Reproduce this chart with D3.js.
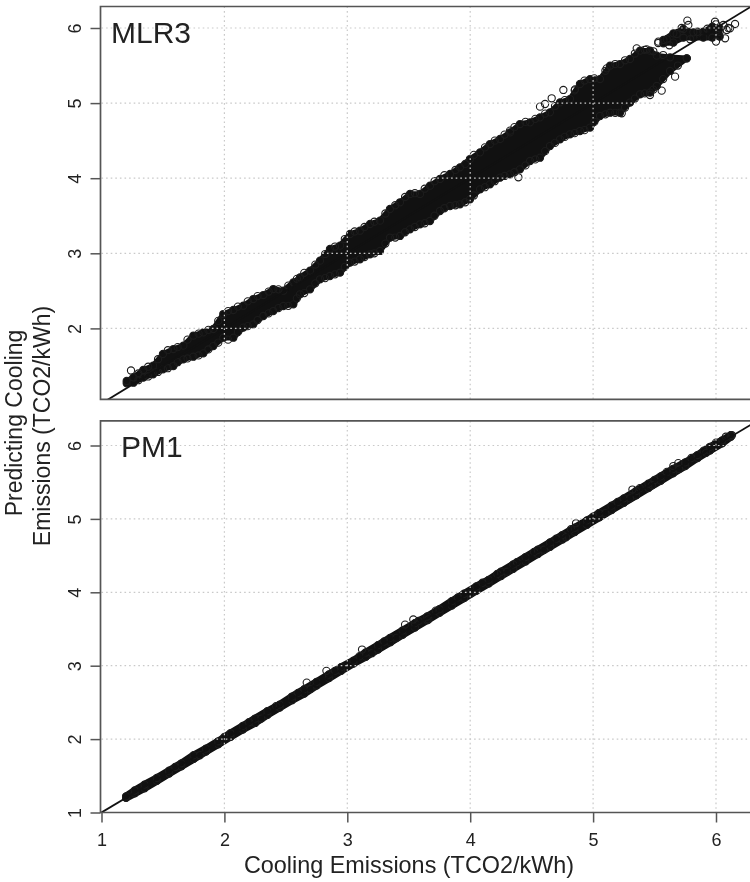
<!DOCTYPE html>
<html>
<head>
<meta charset="utf-8">
<script src="https://cdn.jsdelivr.net/npm/d3@7"></script>
<style>
  body { margin: 0; background: #fff; }
  svg { display: block; filter: blur(0.4px); }
  text { font-family: "Liberation Sans", Arial, sans-serif; fill: #222; }
</style>
</head>
<body>
<svg width="750" height="882"></svg>
<script>
const ticksTop = [2, 3, 4, 5, 6];
const ticksBottom = [1, 2, 3, 4, 5, 6];
const ticksX = [1, 2, 3, 4, 5, 6];

// MLR3: edges of the dense cloud
const mlrX = [1.205, 1.26, 1.34, 1.42, 1.5, 1.585, 1.666, 1.747, 1.829, 1.91, 1.991, 2.073, 2.154, 2.235, 2.317, 2.398, 2.48, 2.561, 2.615, 2.697, 2.778, 2.859, 2.941, 3.022, 3.103, 3.185, 3.266, 3.347, 3.429, 3.51, 3.592, 3.673, 3.754, 3.836, 3.917, 3.998, 4.08, 4.161, 4.243, 4.324, 4.405, 4.487, 4.568, 4.649, 4.731, 4.812, 4.893, 4.975, 5.056, 5.138, 5.219, 5.3, 5.382, 5.463, 5.518, 5.626, 5.762];
const mlrHigh = [1.3, 1.348, 1.446, 1.504, 1.659, 1.725, 1.77, 1.903, 1.947, 1.992, 2.191, 2.245, 2.302, 2.391, 2.444, 2.524, 2.502, 2.613, 2.68, 2.769, 2.902, 3.057, 3.102, 3.257, 3.301, 3.39, 3.435, 3.59, 3.679, 3.79, 3.79, 3.9, 3.99, 4.056, 4.145, 4.255, 4.344, 4.455, 4.522, 4.61, 4.721, 4.744, 4.81, 4.877, 5.01, 5.054, 5.254, 5.32, 5.32, 5.498, 5.52, 5.587, 5.698, 5.698, 5.632, 5.61, 5.596];
const mlrLow = [1.27, 1.277, 1.344, 1.388, 1.455, 1.499, 1.588, 1.623, 1.668, 1.765, 1.876, 1.876, 2.01, 2.054, 2.165, 2.231, 2.298, 2.32, 2.453, 2.52, 2.654, 2.698, 2.742, 2.875, 2.92, 2.986, 3.031, 3.208, 3.231, 3.319, 3.386, 3.43, 3.563, 3.63, 3.652, 3.718, 3.851, 3.918, 4.007, 4.051, 4.118, 4.229, 4.273, 4.428, 4.517, 4.584, 4.628, 4.673, 4.828, 4.872, 4.872, 5.006, 5.116, 5.14, 5.228, 5.428, 5.596];
// the small separate group at the top end
const endX = [5.572, 5.653, 5.735, 5.816, 5.897, 5.97, 6.03];
const endHigh = [5.84, 5.929, 5.987, 5.942, 5.951, 6.018, 5.996];
const endLow = [5.796, 5.805, 5.871, 5.871, 5.871, 5.871, 5.885];
// single points along the cloud edges and loose ones outside it
const mlrRimX = [1.3, 1.38, 1.46, 1.54, 1.62, 1.7, 1.79, 1.87, 1.95, 2.03, 2.11, 2.19, 2.27, 2.36, 2.44, 2.52, 2.59, 2.65, 2.74, 2.82, 2.9, 2.98, 3.06, 3.14, 3.22, 3.31, 3.39, 3.47, 3.55, 3.63, 3.71, 3.79, 3.88, 3.96, 4.03, 4.12, 4.2, 4.28, 4.36, 4.45, 4.53, 4.61, 4.69, 4.77, 4.85, 4.93, 5.01, 5.1, 5.18, 5.26, 5.34, 5.42, 5.49, 5.57,
  1.3, 1.38, 1.46, 1.54, 1.62, 1.7, 1.79, 1.87, 1.95, 2.03, 2.11, 2.19, 2.27, 2.36, 2.44, 2.52, 2.59, 2.65, 2.74, 2.82, 2.9, 2.98, 3.06, 3.14, 3.22, 3.31, 3.39, 3.47, 3.55, 3.63, 3.71, 3.79, 3.88, 3.96, 4.03, 4.12, 4.2, 4.28, 4.36, 4.45, 4.53, 4.61, 4.69, 4.77, 4.85, 4.93, 5.01, 5.1, 5.18, 5.26, 5.34, 5.42, 5.49, 5.57, 5.69];
const mlrRimY = [1.4, 1.49, 1.59, 1.71, 1.75, 1.85, 1.93, 1.98, 2.1, 2.23, 2.29, 2.36, 2.43, 2.49, 2.52, 2.57, 2.66, 2.74, 2.85, 2.99, 3.09, 3.19, 3.29, 3.35, 3.42, 3.53, 3.64, 3.75, 3.8, 3.86, 3.96, 4.04, 4.11, 4.19, 4.31, 4.41, 4.5, 4.58, 4.68, 4.75, 4.79, 4.86, 4.96, 5.04, 5.17, 5.3, 5.33, 5.43, 5.52, 5.57, 5.66, 5.71, 5.69, 5.64,
  1.31, 1.36, 1.42, 1.47, 1.55, 1.6, 1.64, 1.72, 1.81, 1.85, 1.95, 2.03, 2.11, 2.2, 2.27, 2.3, 2.4, 2.47, 2.6, 2.67, 2.72, 2.82, 2.89, 2.95, 3.0, 3.13, 3.21, 3.28, 3.35, 3.4, 3.5, 3.6, 3.64, 3.68, 3.77, 3.88, 3.96, 4.03, 4.08, 4.17, 4.25, 4.36, 4.47, 4.55, 4.6, 4.64, 4.75, 4.85, 4.87, 4.94, 5.06, 5.13, 5.18, 5.32, 5.5];
const mlrLooseX = [1.24, 4.568, 4.609, 4.663, 4.758, 4.853, 4.324, 5.111, 5.667, 5.558, 5.463, 5.233, 4.392, 5.355, 5.436, 5.531, 5.53, 5.6, 5.62, 5.68, 5.72, 5.767, 5.775, 5.79, 5.85, 5.93, 5.992, 6.0, 6.0, 6.03, 6.06, 6.074, 6.087, 6.1, 6.114, 6.155];
const mlrLooseY = [1.44, 4.953, 4.988, 5.064, 5.175, 5.183, 4.633, 5.463, 5.352, 5.166, 5.108, 4.864, 4.012, 5.729, 5.716, 5.818, 5.8, 5.85, 5.77, 5.92, 6.0, 6.098, 6.04, 5.85, 5.95, 5.99, 6.084, 6.05, 5.82, 5.95, 6.04, 5.863, 5.974, 6.0, 5.996, 6.053];

// PM1: edges of the narrow band
const pmX = [1.2, 1.27, 1.35, 1.45, 1.55, 1.65, 1.75, 1.85, 1.95, 2.05, 2.15, 2.25, 2.35, 2.45, 2.55, 2.65, 2.75, 2.85, 2.95, 3.05, 3.15, 3.25, 3.35, 3.45, 3.55, 3.65, 3.75, 3.85, 3.95, 4.05, 4.15, 4.25, 4.35, 4.45, 4.55, 4.65, 4.75, 4.85, 4.95, 5.05, 5.15, 5.25, 5.35, 5.45, 5.55, 5.65, 5.75, 5.85, 5.95, 6.05, 6.12];
const pmHigh = [1.22, 1.3, 1.38, 1.47, 1.57, 1.67, 1.78, 1.87, 1.97, 2.08, 2.18, 2.28, 2.38, 2.47, 2.58, 2.68, 2.78, 2.88, 2.98, 3.07, 3.18, 3.28, 3.38, 3.48, 3.58, 3.67, 3.77, 3.88, 3.98, 4.08, 4.17, 4.28, 4.38, 4.48, 4.58, 4.68, 4.78, 4.88, 4.98, 5.08, 5.18, 5.28, 5.38, 5.48, 5.58, 5.68, 5.77, 5.87, 5.98, 6.07, 6.14];
const pmLow = [1.2, 1.26, 1.33, 1.43, 1.53, 1.63, 1.73, 1.83, 1.93, 2.03, 2.13, 2.22, 2.33, 2.43, 2.53, 2.62, 2.73, 2.83, 2.93, 3.03, 3.12, 3.22, 3.32, 3.42, 3.52, 3.62, 3.72, 3.82, 3.92, 4.02, 4.12, 4.22, 4.32, 4.42, 4.52, 4.62, 4.72, 4.82, 4.92, 5.02, 5.12, 5.22, 5.32, 5.42, 5.52, 5.62, 5.72, 5.83, 5.93, 6.03, 6.12];
const pmRimX = [1.6, 2.0, 2.2, 2.42, 2.6, 2.9, 3.1, 3.3, 3.58, 3.72, 3.9, 4.1, 4.22, 4.38, 4.52, 4.7, 4.82, 5.05, 5.2, 5.38, 5.5, 5.6, 5.8, 5.9, 6.0, 1.8, 2.3, 2.7, 3.2, 3.4, 3.66, 4.0, 4.3, 4.6, 4.78, 5.1, 5.3, 5.48, 5.7, 5.92];
const pmRimY = [1.62, 2.03, 2.23, 2.45, 2.63, 2.93, 3.13, 3.33, 3.61, 3.75, 3.93, 4.13, 4.25, 4.41, 4.55, 4.73, 4.86, 5.08, 5.23, 5.42, 5.53, 5.64, 5.83, 5.93, 6.04, 1.78, 2.28, 2.68, 3.17, 3.38, 3.63, 3.98, 4.28, 4.58, 4.75, 5.08, 5.28, 5.46, 5.68, 5.9];
const pmLooseX = [2.67, 2.83, 3.12, 3.47, 3.537, 4.861, 5.0, 5.32, 5.653, 5.693, 6.08, 6.13];
const pmLooseY = [2.77, 2.93, 3.22, 3.56, 3.63, 4.94, 5.03, 5.4, 5.72, 5.76, 6.12, 6.14];

const svg = d3.select("svg"),
  width = +svg.attr("width");

const left = 101.5;
const x = d3.scaleLinear().domain([1, 6]).range([left, 716]);
const yTop = d3.scaleLinear().domain([1, 6]).range([403.5, 28]);
const yBottom = d3.scaleLinear().domain([1, 6]).range([812.5, 445.5]);

function panel(name, y, top, bottom, ticks, clouds, looseX, looseY, bandStroke) {
  const g = svg.append("g").attr("id", name);

  g.append("clipPath").attr("id", "clip-" + name)
    .append("rect")
    .attr("x", left - 1).attr("y", top)
    .attr("width", width - left + 1).attr("height", bottom - top);

  const body = g.append("g").attr("clip-path", "url(#clip-" + name + ")");

  const dots = [];

  // the dense parts: the stroke stands for the radius of the outer circles
  clouds.forEach(c => {
    const band = d3.area()
      .x((d, i) => x(c.xs[i]))
      .y0((d, i) => y(c.low[i]))
      .y1((d, i) => y(c.high[i]));

    body.append("path")
      .datum(c.xs)
      .attr("fill", "#111")
      .attr("stroke", "#111")
      .attr("stroke-width", bandStroke)
      .attr("stroke-linejoin", "round")
      .attr("d", band);

    c.xs.forEach((v, i) => {
      dots.push({ px: v, py: c.low[i], solid: true });
      dots.push({ px: v, py: c.high[i], solid: true });
    });
  });

  looseX.forEach((v, i) => dots.push({ px: v, py: looseY[i], solid: false }));

  body.selectAll("circle")
    .data(dots)
    .enter().append("circle")
    .attr("cx", d => x(d.px))
    .attr("cy", d => y(d.py))
    .attr("r", 3.6)
    .attr("fill", d => d.solid ? "#111" : "none")
    .attr("stroke", "#1c1c1c")
    .attr("stroke-width", 1.1);

  // y = x
  body.append("line")
    .attr("x1", x(0.9)).attr("y1", y(0.9))
    .attr("x2", x(6.5)).attr("y2", y(6.5))
    .attr("stroke", "#111")
    .attr("stroke-width", 1.8);

  // grid sits on top of the points
  const grid = body.append("g")
    .attr("fill", "none")
    .attr("stroke", "#c9c9c9")
    .attr("stroke-width", 1.2)
    .attr("stroke-dasharray", "1.6 3");

  grid.selectAll(".gx").data(ticksX.slice(1))
    .enter().append("line").attr("class", "gx")
    .attr("x1", d => x(d)).attr("x2", d => x(d))
    .attr("y1", top).attr("y2", bottom);

  grid.selectAll(".gy").data(ticks)
    .enter().append("line").attr("class", "gy")
    .attr("x1", left).attr("x2", width)
    .attr("y1", d => y(d)).attr("y2", d => y(d));

  // frame, open at the right edge of the page
  g.append("path")
    .attr("fill", "none")
    .attr("stroke", "#555")
    .attr("stroke-width", 1.7)
    .attr("d", d3.line()([[width + 2, top], [left - 1, top], [left - 1, bottom], [width + 2, bottom]]));

  const axis = g.append("g")
    .attr("transform", "translate(" + (left - 1) + ",0)")
    .call(d3.axisLeft(y).tickValues(ticks).tickSize(10).tickPadding(0).tickFormat(d3.format("d")));
  axis.select(".domain").remove();
  axis.selectAll("line").attr("stroke", "#555").attr("stroke-width", 1.5);
  axis.selectAll("text")
    .attr("font-size", 18)
    .attr("text-anchor", "middle")
    .attr("dy", 0)
    .attr("x", 0)
    .attr("y", 0)
    .attr("transform", "translate(-19.5,0) rotate(-90)");
}

panel("mlr3", yTop, 6.5, 399.3, ticksTop,
  [{ xs: mlrX, low: mlrLow, high: mlrHigh }, { xs: endX, low: endLow, high: endHigh }],
  mlrRimX.concat(mlrLooseX), mlrRimY.concat(mlrLooseY), 5.5);
panel("pm1", yBottom, 420.8, 812.5, ticksBottom,
  [{ xs: pmX, low: pmLow, high: pmHigh }],
  pmRimX.concat(pmLooseX), pmRimY.concat(pmLooseY), 7.5);

const xAxis = svg.append("g")
  .attr("transform", "translate(0,812.5)")
  .call(d3.axisBottom(x).tickValues(ticksX).tickSize(10).tickPadding(10.5).tickFormat(d3.format("d")));
xAxis.select(".domain").remove();
xAxis.selectAll("line").attr("stroke", "#555").attr("stroke-width", 1.5);
xAxis.selectAll("text").attr("font-size", 18);

svg.append("text").attr("x", 111).attr("y", 42.5).attr("font-size", 30).text("MLR3");
svg.append("text").attr("x", 121).attr("y", 456.5).attr("font-size", 30).text("PM1");

svg.append("text")
  .attr("x", 409).attr("y", 873)
  .attr("text-anchor", "middle")
  .attr("font-size", 23.4)
  .text("Cooling Emissions (TCO2/kWh)");

svg.append("text")
  .attr("transform", "translate(22,423) rotate(-90)")
  .attr("text-anchor", "middle")
  .attr("font-size", 23)
  .text("Predicting Cooling");

svg.append("text")
  .attr("transform", "translate(50,426) rotate(-90)")
  .attr("text-anchor", "middle")
  .attr("font-size", 23)
  .text("Emissions (TCO2/kWh)");
</script>
</body>
</html>
